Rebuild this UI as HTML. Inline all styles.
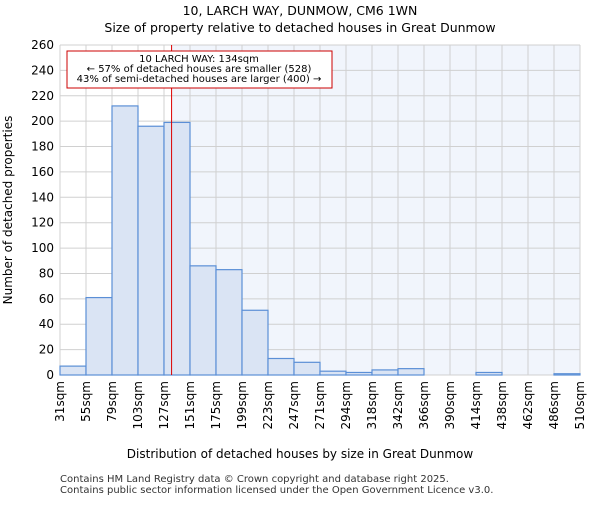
<!DOCTYPE html>
<html><head><meta charset="utf-8"><style>body{margin:0;background:#fff}svg text{font-family:"DejaVu Sans","Liberation Sans",sans-serif}</style></head>
<body>
<svg id="c" width="600" height="500" xmlns="http://www.w3.org/2000/svg">
<text x="300" y="15" text-anchor="middle" font-size="12.5">10, LARCH WAY, DUNMOW, CM6 1WN</text>
<text x="300" y="32" text-anchor="middle" font-size="12.5">Size of property relative to detached houses in Great Dunmow</text>
<text x="300" y="458" text-anchor="middle" font-size="12">Distribution of detached houses by size in Great Dunmow</text>
<text transform="translate(12,210) rotate(-90)" text-anchor="middle" font-size="12">Number of detached properties</text>
<text x="60" y="482" font-size="10" fill="#333">Contains HM Land Registry data © Crown copyright and database right 2025.</text>
<text x="60" y="493" font-size="10" fill="#333">Contains public sector information licensed under the Open Government Licence v3.0.</text>
<g id="g"></g>
</svg>
<script>
const edgeLabels=["31sqm","55sqm","79sqm","103sqm","127sqm","151sqm","175sqm","199sqm","223sqm","247sqm","271sqm","294sqm","318sqm","342sqm","366sqm","390sqm","414sqm","438sqm","462sqm","486sqm","510sqm"];
const counts=[7,61,212,196,199,86,83,51,13,10,3,2,4,5,0,0,2,0,0,1];
const yTicks=[0,20,40,60,80,100,120,140,160,180,200,220,240,260];
const marker=134, binStart=127, binEnd=151, binIndex=4;
const L=60,R=580,T=45,B=375,yMax=260;
const bw=(R-L)/counts.length;
const X=i=>L+i*bw, Y=v=>B-(v/yMax)*(B-T);
const mx=X(binIndex)+(marker-binStart)/(binEnd-binStart)*bw;
const g=document.getElementById('g'),NS="http://www.w3.org/2000/svg";
function mk(t,a,p){const e=document.createElementNS(NS,t);for(const k in a)e.setAttribute(k,a[k]);(p||g).appendChild(e);return e;}
let e=mk('rect',{x:mx,y:T,width:R-mx,height:B-T,fill:'#f1f5fc'});


yTicks.forEach(v=>{let l=mk('line',{x1:L,x2:R,y1:Y(v),y2:Y(v),stroke:'#d0d0d0'});


let t=mk('text',{x:L-6,y:Y(v)+4,'text-anchor':'end','font-size':12});t.textContent=v;

});
edgeLabels.forEach((s,i)=>{let l=mk('line',{x1:X(i),x2:X(i),y1:T,y2:B,stroke:'#d0d0d0'});


let t=mk('text',{transform:`translate(${X(i)+4},${B+6}) rotate(-90)`,'font-size':12,'text-anchor':'end'});t.textContent=s;

});
counts.forEach((v,i)=>{if(v<=0)return;let r=mk('rect',{x:X(i),y:Y(v),width:bw,height:B-Y(v),fill:'#dae4f4',stroke:'#5b8fd6','stroke-width':1.2});

});
e=mk('line',{x1:mx,x2:mx,y1:T,y2:B,stroke:'#dd0000','stroke-width':1});


e=mk('rect',{x:67,y:51,width:265,height:37,fill:'#fff',stroke:'#cc0000'});


["10 LARCH WAY: 134sqm","← 57% of detached houses are smaller (528)","43% of semi-detached houses are larger (400) →"].forEach((s,i)=>{let t=mk('text',{x:199,y:62+i*10,'text-anchor':'middle','font-size':10});t.textContent=s;

});
</script>
</body></html>
